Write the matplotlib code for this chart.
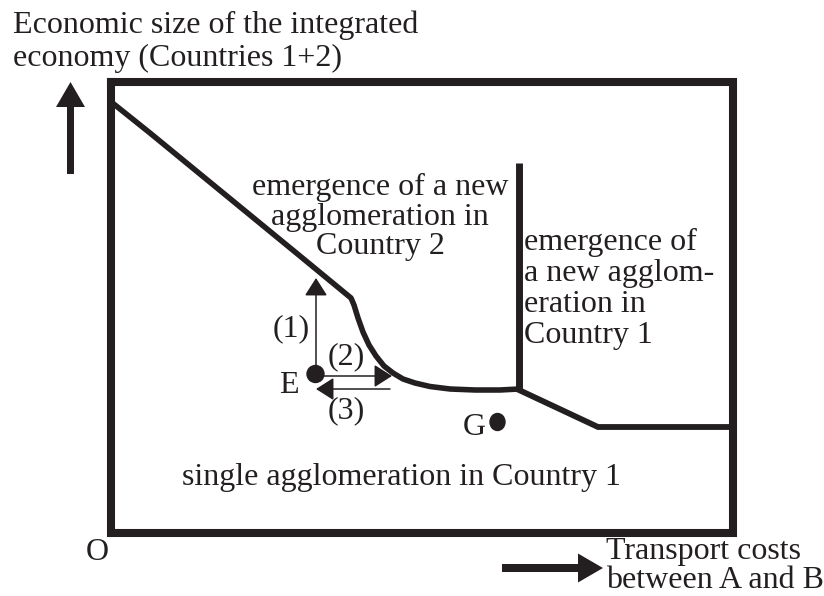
import matplotlib
matplotlib.use("Agg")
import matplotlib.pyplot as plt
from matplotlib.patches import FancyArrow, Ellipse

INK = "#231f20"
FONT = "Liberation Serif"
FS = 23

# ---- diagram data (pixel units of the 824x596 canvas, y downward) ----
box_x = [111.5, 733.5, 733.5, 111.5, 111.5]
box_y = [82, 82, 533, 533, 82]

# boundary: emergence of a new agglomeration in Country 2
curve_x = [115, 150, 200, 250, 300, 351, 354, 358, 363, 369, 376, 384, 393, 403,
           415, 430, 450, 475, 500, 519]
curve_y = [105, 133, 174, 215, 256, 298, 305, 318, 332, 345, 356, 366, 373, 379,
           383, 386.5, 389, 390, 390, 389]

# boundary: emergence of a new agglomeration in Country 1
vert_x = [519, 519]
vert_y = [163, 390]
tail_x = [519, 598, 733]
tail_y = [390, 427, 427]

point_E = (315.5, 374)
point_G = (497.5, 422)

labels_left = ["emergence of a new", "agglomeration in", "Country 2"]
labels_right = ["emergence of", "a new agglom-", "eration in", "Country 1"]
title_lines = ["Economic size of the integrated", "economy (Countries 1+2)"]
xlabel_lines = ["Transport costs", "between A and B"]
bottom_label = "single agglomeration in Country 1"

fig = plt.figure(figsize=(8.24, 5.96), dpi=100)
ax = fig.add_axes([0, 0, 1, 1])
ax.set_xlim(0, 824)
ax.set_ylim(596, 0)
ax.axis("off")

# frame
ax.plot(box_x, box_y, color=INK, lw=5.8, solid_joinstyle="miter", solid_capstyle="projecting")

# boundaries
ax.plot(curve_x, curve_y, color=INK, lw=4.0, solid_joinstyle="round")
ax.plot(vert_x, vert_y, color=INK, lw=5.0, solid_capstyle="butt")
ax.plot(tail_x, tail_y, color=INK, lw=4.2, solid_joinstyle="miter")

# thin arrows
def thin_arrow(x0, y0, x1, y1):
    ax.annotate("", xy=(x1, y1), xytext=(x0, y0),
                arrowprops=dict(arrowstyle="-|>,head_length=0.55,head_width=0.35",
                                mutation_scale=20, lw=1.1, color=INK,
                                shrinkA=0, shrinkB=0))

thin_arrow(316, 374, 316, 278)   # (1)
thin_arrow(316, 376, 392, 376)   # (2)
thin_arrow(390, 389, 316, 389)   # (3)

# dots
ax.add_patch(Ellipse(point_E, 17, 17, color=INK))
ax.add_patch(Ellipse(point_G, 15, 17, color=INK))

# thick axis arrows
ax.add_patch(FancyArrow(70.5, 174, 0, -92, width=7, head_width=29, head_length=25,
                        length_includes_head=True, color=INK, lw=0))
ax.add_patch(FancyArrow(502, 568, 101, 0, width=8, head_width=29, head_length=25,
                        length_includes_head=True, color=INK, lw=0))

tk = dict(fontfamily=FONT, fontsize=FS, color=INK, va="baseline")

for i, s in enumerate(title_lines):
    ax.text(13, 33 + 33 * i, s, ha="left", **tk)
for i, s in enumerate(labels_left):
    ax.text(380, 195 + 29.5 * i, s, ha="center", **tk)
for i, s in enumerate(labels_right):
    ax.text(524, 250 + 31 * i, s, ha="left", **tk)
for i, s in enumerate(xlabel_lines):
    ax.text(606, 559 + 29.5 * i, s, ha="left", **tk)
ax.text(182, 485, bottom_label, ha="left", **tk)
ax.text(97.5, 560, "O", ha="center", **tk)
ax.text(291, 336, "(1)", ha="center", **tk)
ax.text(346.5, 364, "(2)", ha="center", **tk)
ax.text(346.5, 418, "(3)", ha="center", **tk)
ax.text(289, 393, "E", ha="center", **tk)
ax.text(474, 435, "G", ha="center", **tk)

fig.savefig("out.png", dpi=100)
